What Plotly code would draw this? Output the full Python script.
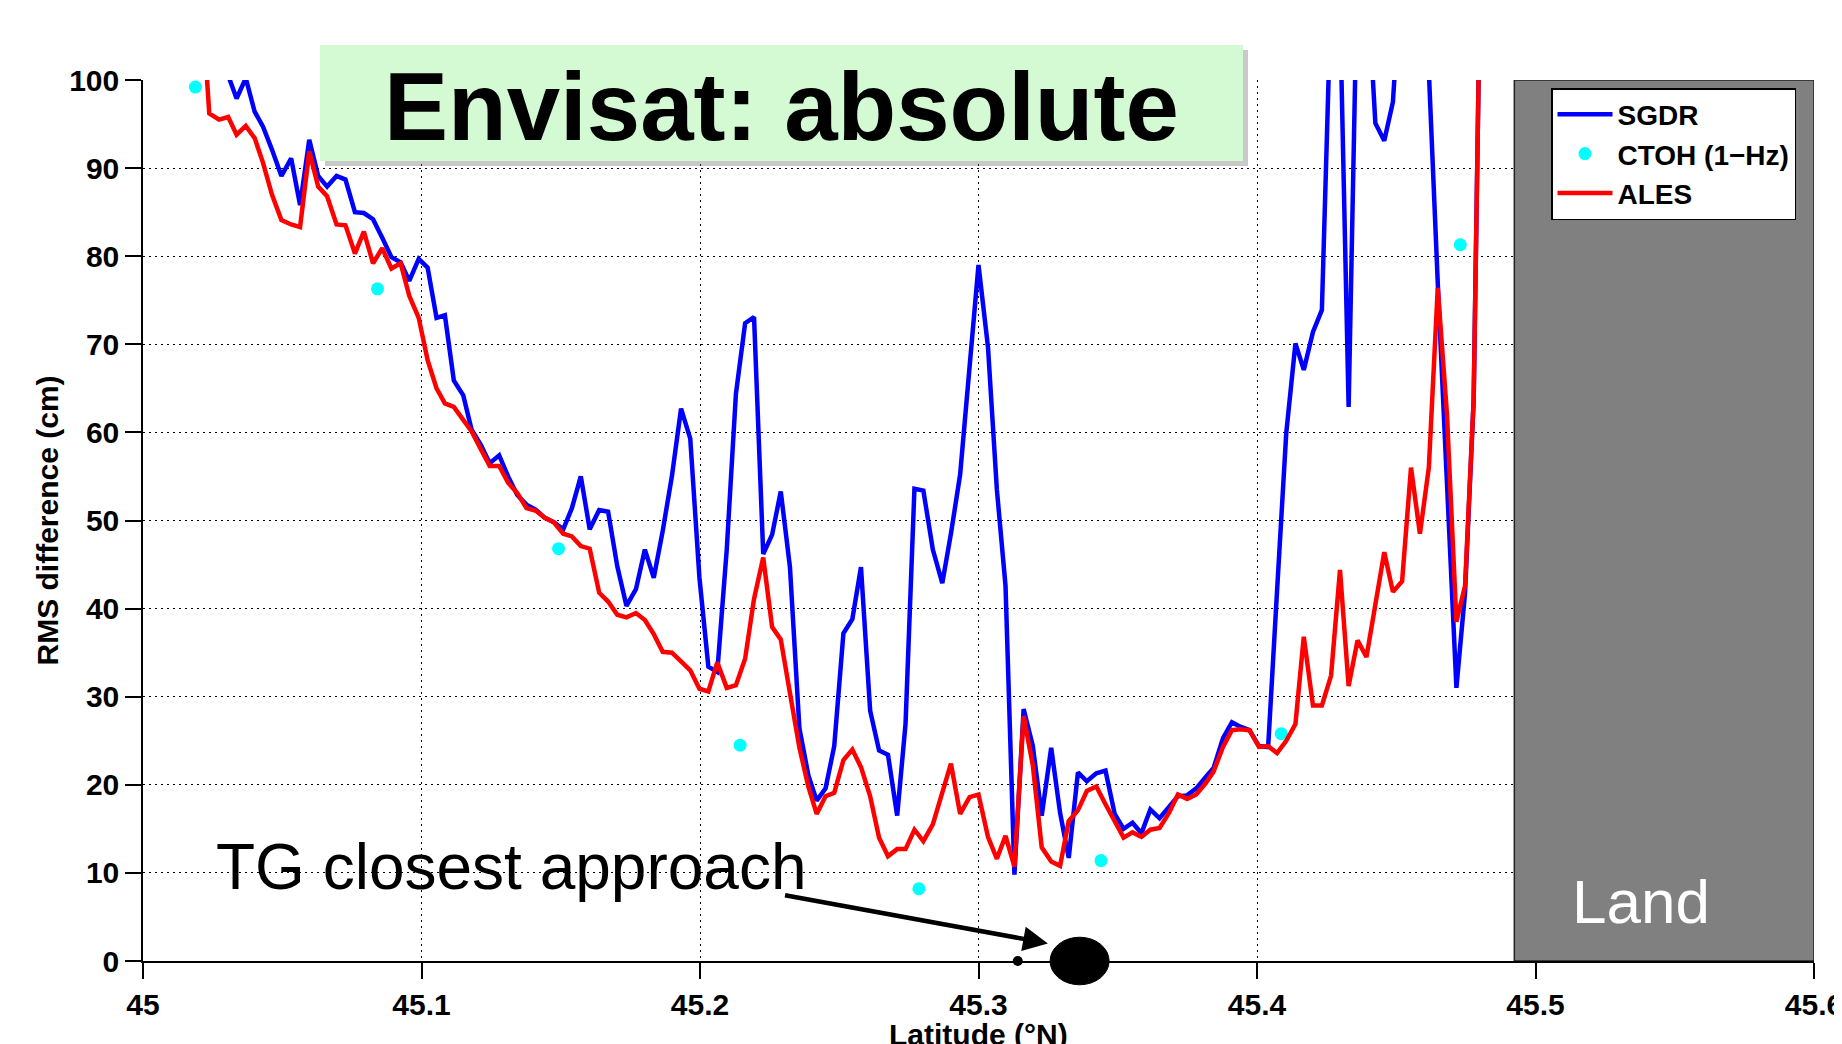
import plotly.graph_objects as go

# ---------------- data ----------------
lat = [45.0205, 45.0238, 45.0273, 45.0306, 45.0336, 45.0369, 45.0401, 45.0431, 45.0463, 45.0497,
       45.0532, 45.0564, 45.0597, 45.0629, 45.0661, 45.0695, 45.0727, 45.0761, 45.0793, 45.0826,
       45.0859, 45.0892, 45.0925, 45.0956, 45.0990, 45.1022, 45.1054, 45.1084, 45.1116, 45.1150,
       45.1180, 45.1213, 45.1245, 45.1279, 45.1311, 45.1344, 45.1377, 45.1411, 45.1443, 45.1475,
       45.1509, 45.1540, 45.1572, 45.1604, 45.1638, 45.1670, 45.1703, 45.1736, 45.1770, 45.1802,
       45.1834, 45.1866, 45.1899, 45.1932, 45.1965, 45.1998, 45.2030, 45.2062, 45.2096, 45.2129,
       45.2162, 45.2194, 45.2227, 45.2259, 45.2290, 45.2323, 45.2357, 45.2389, 45.2419, 45.2451,
       45.2482, 45.2515, 45.2547, 45.2578, 45.2611, 45.2643, 45.2675, 45.2708, 45.2738, 45.2770,
       45.2802, 45.2836, 45.2870, 45.2901, 45.2934, 45.2968, 45.3000, 45.3034, 45.3066, 45.3097,
       45.3129, 45.3162, 45.3195, 45.3227, 45.3261, 45.3293, 45.3324, 45.3357, 45.3389, 45.3423,
       45.3456, 45.3489, 45.3521, 45.3553, 45.3585, 45.3617, 45.3650, 45.3684, 45.3716, 45.3749,
       45.3782, 45.3816, 45.3844, 45.3878, 45.3910, 45.3940, 45.3973, 45.4007, 45.4040, 45.4072,
       45.4105, 45.4138, 45.4168, 45.4201, 45.4233, 45.4266, 45.4298, 45.4329, 45.4361, 45.4393,
       45.4425, 45.4457, 45.4488, 45.4521, 45.4553, 45.4585, 45.4617, 45.4649, 45.4682, 45.4716,
       45.4747, 45.4778, 45.4810]

sgdr = [130, 115, 110, 100.5, 97.9, 100.2, 96.4, 94.7, 92.1, 89.1,
        91.1, 85.8, 93.2, 89.1, 87.9, 89.1, 88.7, 85.0, 84.9, 84.2,
        82.1, 79.9, 79.3, 77.2, 79.7, 78.7, 73.0, 73.3, 65.9, 64.2,
        60.3, 58.6, 56.5, 57.4, 55.0, 52.9, 51.8, 51.2, 50.3, 49.8,
        49.0, 51.4, 55.0, 49.0, 51.2, 51.0, 44.8, 40.3, 42.2, 46.7,
        43.5, 48.8, 55.0, 62.7, 59.3, 43.5, 33.4, 32.8, 46.7, 64.4,
        72.4, 73.1, 46.2, 48.4, 53.3, 44.7, 26.4, 21.1, 18.2, 19.6,
        24.4, 37.2, 38.8, 44.7, 28.4, 23.9, 23.4, 16.5, 26.9, 53.6,
        53.4, 46.7, 42.9, 48.5, 55.2, 68.2, 79.0, 69.7, 53.5, 42.6,
        9.8, 28.6, 24.4, 16.5, 24.2, 16.8, 11.7, 21.4, 20.4, 21.3,
        21.6, 16.7, 15.0, 15.7, 14.5, 17.2, 16.2, 17.5, 18.7, 18.8,
        19.6, 20.9, 21.9, 25.3, 27.1, 26.6, 26.2, 24.4, 24.3, 42.0,
        59.9, 70.1, 67.1, 71.4, 73.9, 110, 108, 62.9, 114, 113,
        95.1, 93.1, 97.5, 114, 120, 115, 101, 77, 55, 31.0,
        41.8, 63.7, 130]

ales = [112, 96.2, 95.5, 95.8, 93.8, 94.8, 93.4, 90.6, 87.0, 84.1,
        83.6, 83.3, 91.9, 87.9, 86.8, 83.6, 83.5, 80.3, 82.8, 79.2,
        80.9, 78.6, 79.2, 75.5, 73.0, 68.2, 65.0, 63.3, 62.9, 61.3,
        60.1, 58.1, 56.2, 56.2, 54.3, 53.1, 51.4, 51.1, 50.3, 49.8,
        48.5, 48.2, 47.1, 46.8, 41.8, 40.8, 39.3, 39.0, 39.5, 38.7,
        37.1, 35.1, 35.0, 34.0, 33.0, 30.9, 30.6, 33.9, 31.0, 31.3,
        34.3, 41.1, 45.8, 37.9, 36.5, 30.4, 24.2, 19.8, 16.7, 18.7,
        19.1, 22.8, 24.0, 22.0, 18.7, 14.0, 11.9, 12.7, 12.7, 14.9,
        13.6, 15.5, 19.0, 22.4, 16.7, 18.6, 18.9, 14.1, 11.6, 14.2,
        10.7, 27.8, 22.2, 12.9, 11.3, 10.8, 15.9, 17.1, 19.3, 19.8,
        17.8, 16.0, 14.0, 14.6, 14.1, 14.9, 15.1, 16.8, 18.9, 18.4,
        18.9, 20.2, 21.5, 24.3, 26.2, 26.3, 26.2, 24.3, 24.4, 23.6,
        25.0, 26.9, 36.8, 29.0, 29.0, 32.4, 44.4, 31.2, 36.4, 34.5,
        40.7, 46.4, 41.9, 43.1, 56.0, 48.5, 56.0, 76.4, 62.1, 38.5,
        42.6, 63.7, 130]

ctoh_lat = [45.0188, 45.0842, 45.1492, 45.2144, 45.2786, 45.3440, 45.4087, 45.4730]
ctoh = [99.2, 76.3, 46.8, 24.5, 8.2, 11.4, 25.8, 81.3]

x_ticks = [45.0, 45.1, 45.2, 45.3, 45.4, 45.5, 45.6]
x_tick_labels = ["45", "45.1", "45.2", "45.3", "45.4", "45.5", "45.6"]
y_ticks = [0, 10, 20, 30, 40, 50, 60, 70, 80, 90, 100]

X_RANGE = [45.0, 45.6]
Y_RANGE = [0, 100]

land_start = 45.4924          # start of the land mask
tg_lat = 45.3363              # tide-gauge closest approach (big marker)
tg_halfwidth = 0.0106         # half extent of the marker in latitude
tg_halfheight = 2.7           # half extent of the marker in cm
tg_point_lat = 45.3141        # small black point on the axis
arrow_tail = (45.230, 7.5)
arrow_head = (45.3249, 2.0)

# ---------------- figure ----------------
FONT = "Liberation Sans"
W, H = 1842, 1044
OFF = 8                        # page body margin offset
PL, PR, PT, PB = 143, 1814, 80, 961   # wanted plot area in window pixels
ML, MT = PL - OFF, PT - OFF
MR = W - (PR - OFF)
MB = H - (PB - OFF)
plot_w = PR - PL
plot_h = PB - PT


def wx(x):   # window x pixel -> paper
    return (x - PL) / plot_w


def wy(y):   # window y pixel -> paper
    return (PB - y) / plot_h


def px(v):
    return (v - X_RANGE[0]) / (X_RANGE[1] - X_RANGE[0])


def py(v):
    return (v - Y_RANGE[0]) / (Y_RANGE[1] - Y_RANGE[0])


fig = go.Figure()
fig.add_trace(go.Scatter(x=lat, y=sgdr, mode="lines", name="SGDR",
                         line=dict(color="#0000FF", width=4.5)))
fig.add_trace(go.Scatter(x=ctoh_lat, y=ctoh, mode="markers", name="CTOH (1\u2212Hz)",
                         marker=dict(color="#00FFFF", size=13)))
fig.add_trace(go.Scatter(x=lat, y=ales, mode="lines", name="ALES",
                         line=dict(color="#FF0000", width=4.5)))
fig.add_trace(go.Scatter(x=[tg_point_lat], y=[0], mode="markers", showlegend=False,
                         marker=dict(color="black", size=10), cliponaxis=False))

# land mask
fig.add_shape(type="rect", xref="x", yref="y", x0=land_start, x1=X_RANGE[1],
              y0=Y_RANGE[0], y1=Y_RANGE[1], fillcolor="#808080",
              line=dict(color="#222222", width=1.5), layer="above")

# title box with shadow
box_x0, box_x1 = wx(320), wx(1243)
box_y1, box_y0 = wy(45), wy(161)
sh = 5 / plot_w
shv = 5 / plot_h
fig.add_shape(type="rect", xref="paper", yref="paper", x0=box_x0 + sh, x1=box_x1 + sh,
              y0=box_y0 - shv, y1=box_y1 - shv, fillcolor="rgba(120,120,120,0.4)",
              line=dict(width=0), layer="above")
fig.add_shape(type="rect", xref="paper", yref="paper", x0=box_x0, x1=box_x1,
              y0=box_y0, y1=box_y1, fillcolor="#D4FAD4",
              line=dict(width=0), layer="above")

# TG marker (ellipse)
fig.add_shape(type="circle", xref="paper", yref="paper",
              x0=px(tg_lat - tg_halfwidth), x1=px(tg_lat + tg_halfwidth),
              y0=py(-tg_halfheight), y1=py(tg_halfheight),
              fillcolor="black", line=dict(color="black", width=1), layer="above")

fig.add_annotation(x=(box_x0 + box_x1) / 2, y=wy(107), xref="paper", yref="paper",
                   text="Envisat: absolute", showarrow=False,
                   font=dict(family=FONT, size=96, color="black", weight="bold"),
                   xanchor="center", yanchor="middle")

fig.add_annotation(x=45.0255, y=10.7, xref="x", yref="y", text="TG closest approach",
                   showarrow=False, xanchor="left", yanchor="middle",
                   font=dict(family=FONT, size=64, color="black"))

fig.add_annotation(x=arrow_head[0], y=arrow_head[1], ax=arrow_tail[0], ay=arrow_tail[1],
                   xref="x", yref="y", axref="x", ayref="y", text="", showarrow=True,
                   arrowhead=2, arrowsize=1.1, arrowwidth=4.5, arrowcolor="black")

fig.add_annotation(x=45.538, y=6.7, xref="x", yref="y", text="Land", showarrow=False,
                   font=dict(family=FONT, size=62, color="white"),
                   xanchor="center", yanchor="middle")

fig.add_annotation(x=wx(47), y=0.5, xref="paper", yref="paper",
                   text="RMS difference (cm)", textangle=-90, showarrow=False,
                   font=dict(family=FONT, size=30, color="black", weight="bold"),
                   xanchor="center", yanchor="middle")
fig.add_annotation(x=0.5, y=wy(1034), xref="paper", yref="paper",
                   text="Latitude (\u00b0N)", showarrow=False,
                   font=dict(family=FONT, size=30, color="black", weight="bold"),
                   xanchor="center", yanchor="middle")

axis_common = dict(showline=True, linecolor="black", linewidth=1.5,
                   ticks="outside", ticklen=16, tickwidth=1.5, tickcolor="black",
                   showgrid=True, gridcolor="black", gridwidth=1, griddash="2px,4px",
                   zeroline=False, mirror=False,
                   tickfont=dict(family=FONT, size=30, color="black", weight="bold"))

fig.update_xaxes(range=X_RANGE, tickvals=x_ticks, ticktext=x_tick_labels,
                 ticklabeloverflow="allow", **axis_common)
fig.update_yaxes(range=Y_RANGE, tickvals=y_ticks, **axis_common)

fig.update_layout(
    width=W, height=H,
    margin=dict(l=ML, r=MR, t=MT, b=MB, autoexpand=False),
    paper_bgcolor="white", plot_bgcolor="white",
    showlegend=True,
    legend=dict(x=wx(1551), y=wy(88), xanchor="left", yanchor="top",
                bgcolor="white", bordercolor="black", borderwidth=1.5,
                font=dict(family=FONT, size=28, color="black", weight="bold"),
                itemwidth=55, tracegroupgap=0),
)

fig.write_html("out.html")
